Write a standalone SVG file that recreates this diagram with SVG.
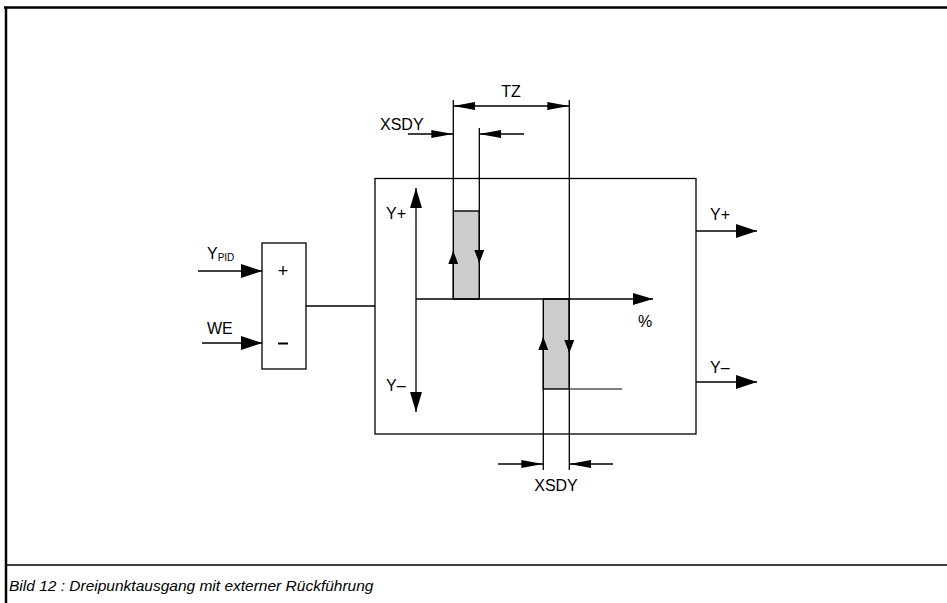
<svg xmlns="http://www.w3.org/2000/svg" width="947" height="603" viewBox="0 0 947 603">
<style>
text{font-family:"Liberation Sans",Arial,sans-serif;fill:#000}
.t{font-size:16px}
.ln{stroke:#000;stroke-width:1.3;fill:none}
.gray{fill:#cccccc;stroke:#000;stroke-width:1.4}
</style>
<defs>
<marker id="aL" markerUnits="userSpaceOnUse" markerWidth="21" markerHeight="14" refX="21" refY="7" orient="auto"><path d="M0,0 L21,7 L0,14 z" fill="#000"/></marker>
<marker id="aM" markerUnits="userSpaceOnUse" markerWidth="20" markerHeight="12" refX="20" refY="6" orient="auto"><path d="M0,0 L20,6 L0,12 z" fill="#000"/></marker>
<marker id="aS" markerUnits="userSpaceOnUse" markerWidth="13" markerHeight="10" refX="13" refY="5" orient="auto"><path d="M0,0 L13,5 L0,10 z" fill="#000"/></marker>
<marker id="aD" markerUnits="userSpaceOnUse" markerWidth="22" markerHeight="8" refX="22" refY="4" orient="auto"><path d="M0,0 L22,4 L0,8 z" fill="#000"/></marker>
<marker id="aDs" markerUnits="userSpaceOnUse" markerWidth="22" markerHeight="8" refX="0" refY="4" orient="auto"><path d="M22,0 L0,4 L22,8 z" fill="#000"/></marker>
</defs>

<g id="frame">
<path d="M4,7.5 H947 M6,7 V603" stroke="#000" stroke-width="2.5" fill="none"/>
<path d="M6,565 H947" stroke="#000" stroke-width="1.5"/>
<text x="9" y="591" font-size="15.5" font-style="italic">Bild 12 : Dreipunktausgang mit externer Rückführung</text>
</g>

<g id="sum">
<rect x="262" y="243" width="44" height="126" class="ln"/>
<text x="283" y="277" font-size="18" text-anchor="middle">+</text>
<path d="M278,343.5 H288" stroke="#000" stroke-width="2"/>
</g>

<g id="inputs">
<text x="207" y="259" class="t">Y<tspan font-size="10" dy="2">PID</tspan></text>
<text x="207" y="334" class="t">WE</text>
</g>

<g id="controller">
<rect x="375" y="178.5" width="321" height="255.5" class="ln"/>
<text x="386" y="219" class="t">Y+</text>
<text x="386" y="391" class="t">Y–</text>
<text x="638" y="327" class="t">%</text>
<rect x="453.3" y="211" width="26" height="88" class="gray"/>
<rect x="543.3" y="299" width="26" height="90" class="gray"/>
</g>

<g id="outputs">
<text x="710" y="220" class="t">Y+</text>
<text x="710" y="373" class="t">Y–</text>
</g>

<g id="dims">
<text x="511" y="97" class="t" text-anchor="middle">TZ</text>
<text x="380" y="130" class="t">XSDY</text>
<text x="556" y="491" class="t" text-anchor="middle">XSDY</text>
</g>

<g id="connectors">
<path d="M198,271 H262" class="ln" marker-end="url(#aL)"/>
<path d="M202,343 H262" class="ln" marker-end="url(#aL)"/>
<path d="M306,306 H375" class="ln"/>
<path d="M416,299 V188" class="ln" marker-end="url(#aM)"/>
<path d="M416,299 V412" class="ln" marker-end="url(#aM)"/>
<path d="M416,299 H653" class="ln" marker-end="url(#aM)"/>
<path d="M453.3,299 V251" class="ln" marker-end="url(#aS)"/>
<path d="M479.3,211 V263" class="ln" marker-end="url(#aS)"/>
<path d="M543.3,389 V337" class="ln" marker-end="url(#aS)"/>
<path d="M569.3,299 V353" class="ln" marker-end="url(#aS)"/>
<path d="M569.3,389 H622" stroke="#555" stroke-width="1.3"/>
<path d="M696,231 H757" class="ln" marker-end="url(#aL)"/>
<path d="M696,382 H757" class="ln" marker-end="url(#aL)"/>
<path d="M453.3,100 V211 M479.3,128 V211 M569.3,100 V470 M543.3,389 V470" class="ln"/>
<path d="M453.3,106 H569.3" class="ln" marker-start="url(#aDs)" marker-end="url(#aD)"/>
<path d="M408,134 H453.3" class="ln" marker-end="url(#aD)"/>
<path d="M524,134 H479.3" class="ln" marker-end="url(#aD)"/>
<path d="M498,464 H543.3" class="ln" marker-end="url(#aD)"/>
<path d="M613,464 H569.3" class="ln" marker-end="url(#aD)"/>
</g>
</svg>
